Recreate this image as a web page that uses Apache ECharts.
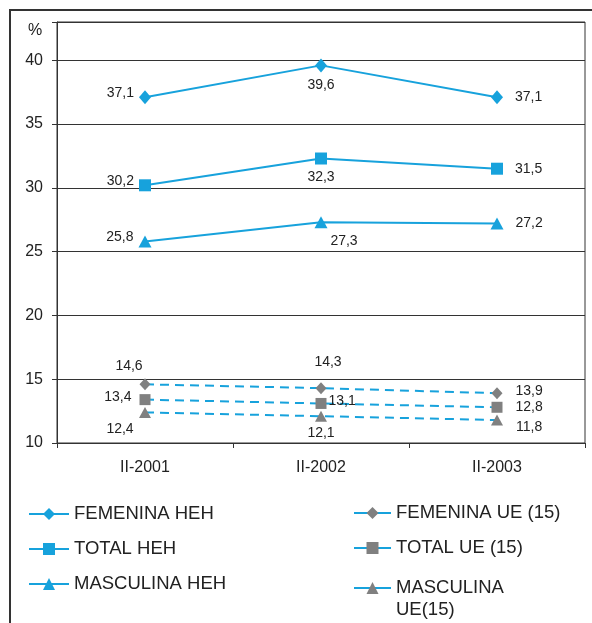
<!DOCTYPE html>
<html>
<head>
<meta charset="utf-8">
<script src="https://cdn.jsdelivr.net/npm/echarts@6/dist/echarts.min.js"></script>
<style>
html,body{margin:0;padding:0;background:#fff;}
#c{width:592px;height:623px;}
</style>
</head>
<body>
<div id="c"></div>
<script>
const categories = ['II-2001', 'II-2002', 'II-2003'];
const femeninaHEH = [37.1, 39.6, 37.1];
const totalHEH = [30.2, 32.3, 31.5];
const masculinaHEH = [25.8, 27.3, 27.2];
const femeninaUE = [14.6, 14.3, 13.9];
const totalUE = [13.4, 13.1, 12.8];
const masculinaUE = [12.4, 12.1, 11.8];
const seriesNames = ['FEMENINA HEH', 'TOTAL HEH', 'MASCULINA HEH', 'FEMENINA UE (15)', 'TOTAL UE (15)', 'MASCULINA UE(15)'];

const CYAN = '#17a2dc';
const GRAY = '#808080';
const TXT = '#222';
const FONT = 'Liberation Sans, Arial, sans-serif';

// label placement per point (style only)
const labelPos = [
  [{position:'left',distance:5,offset:[0,-4]},{position:'bottom',distance:6},{position:'right',distance:12}],
  [{position:'left',distance:5,offset:[0,-4]},{position:'bottom',distance:6},{position:'right',distance:12}],
  [{position:'left',distance:5,offset:[0,-4]},{position:'bottom',distance:6,offset:[23,0]},{position:'right',distance:12}],
  [{position:'top',distance:5,offset:[-16,0]},{position:'top',distance:13,offset:[7,0]},{position:'right',distance:13,offset:[0,-2]}],
  [{position:'left',distance:8,offset:[0,-2]},{position:'right',distance:2,offset:[0,-2]},{position:'right',distance:13}],
  [{position:'bottom',distance:4,offset:[-25,0]},{position:'bottom',distance:4},{position:'right',distance:13,offset:[0,7]}]
];

function fmt(v){ return v.toFixed(1).replace('.', ','); }

function mkData(arr, idx){
  return arr.map((v,i)=>({value:v, label:Object.assign({}, labelPos[idx][i])}));
}

const seriesData = [femeninaHEH, totalHEH, masculinaHEH, femeninaUE, totalUE, masculinaUE];
const symbols = ['diamond','rect','triangle','diamond','rect','triangle'];
const symSizes = [[12,14],12,[13,12],[11,12],11,[12,11]];

const series = seriesData.map((arr, k)=>{
  const ue = k >= 3;
  return {
    name: seriesNames[k],
    type: 'line',
    data: mkData(arr, k),
    symbol: symbols[k],
    symbolSize: symSizes[k],
    showAllSymbol: true,
    lineStyle: {color: CYAN, width: 2, type: ue ? [9,6] : 'solid'},
    itemStyle: {color: ue ? GRAY : CYAN},
    label: {show: true, formatter: p => fmt(p.value), color: TXT, fontSize: 14, fontFamily: FONT},
    emphasis: {disabled: true},
    z: ue ? 2 : 3
  };
});

const legendCommon = {
  orient: 'vertical',
  padding: 0,
  itemWidth: 40,
  itemHeight: 15,
  itemGap: 13,
  textStyle: {color: TXT, fontSize: 18.5, fontFamily: FONT, lineHeight: 22},
  lineStyle: {type: 'solid', color: CYAN, width: 2},
  selectedMode: false
};

const option = {
  animation: false,
  backgroundColor: '#fff',
  grid: {left: 57, right: 7, top: 22, bottom: 180, show: true, borderColor: '#333', borderWidth: 1},
  xAxis: {
    type: 'category',
    data: categories,
    boundaryGap: true,
    axisLine: {lineStyle: {color: '#333', width: 1}},
    axisTick: {show: true, length: 5, lineStyle: {color: '#333'}},
    axisLabel: {color: TXT, fontSize: 16, fontFamily: FONT, margin: 17}
  },
  yAxis: {
    type: 'value',
    min: 10, max: 43, interval: 5,
    axisLine: {show: true, lineStyle: {color: '#333', width: 1}},
    axisTick: {show: true, length: 5, lineStyle: {color: '#333'}},
    axisLabel: {color: TXT, fontSize: 16, fontFamily: FONT, margin: 14,
      formatter: v => (v % 5 === 0 ? String(v) : '')},
    splitLine: {show: true, lineStyle: {color: '#333', width: 1}}
  },
  legend: [
    Object.assign({}, legendCommon, {left: 28, top: 503, data: seriesNames.slice(0,3)}),
    Object.assign({}, legendCommon, {left: 353, top: 502, itemWidth: 37, data: seriesNames.slice(3,5)}),
    Object.assign({}, legendCommon, {left: 353, top: 555, itemWidth: 37, data: [seriesNames[5]],
      formatter: () => ' \nMASCULINA\nUE(15)'})
  ],
  graphic: [
    {type:'line', shape:{x1:9, y1:10, x2:592, y2:10}, style:{stroke:'#333', lineWidth:2}, silent:true},
    {type:'line', shape:{x1:10, y1:10, x2:10, y2:623}, style:{stroke:'#333', lineWidth:2}, silent:true},
    {type:'text', left: 28, top: 23, style:{text:'%', fill: TXT, font: '16px ' + FONT}, silent:true}
  ],
  series: series
};

const chart = echarts.init(document.getElementById('c'));
chart.setOption(option);
</script>
</body>
</html>
